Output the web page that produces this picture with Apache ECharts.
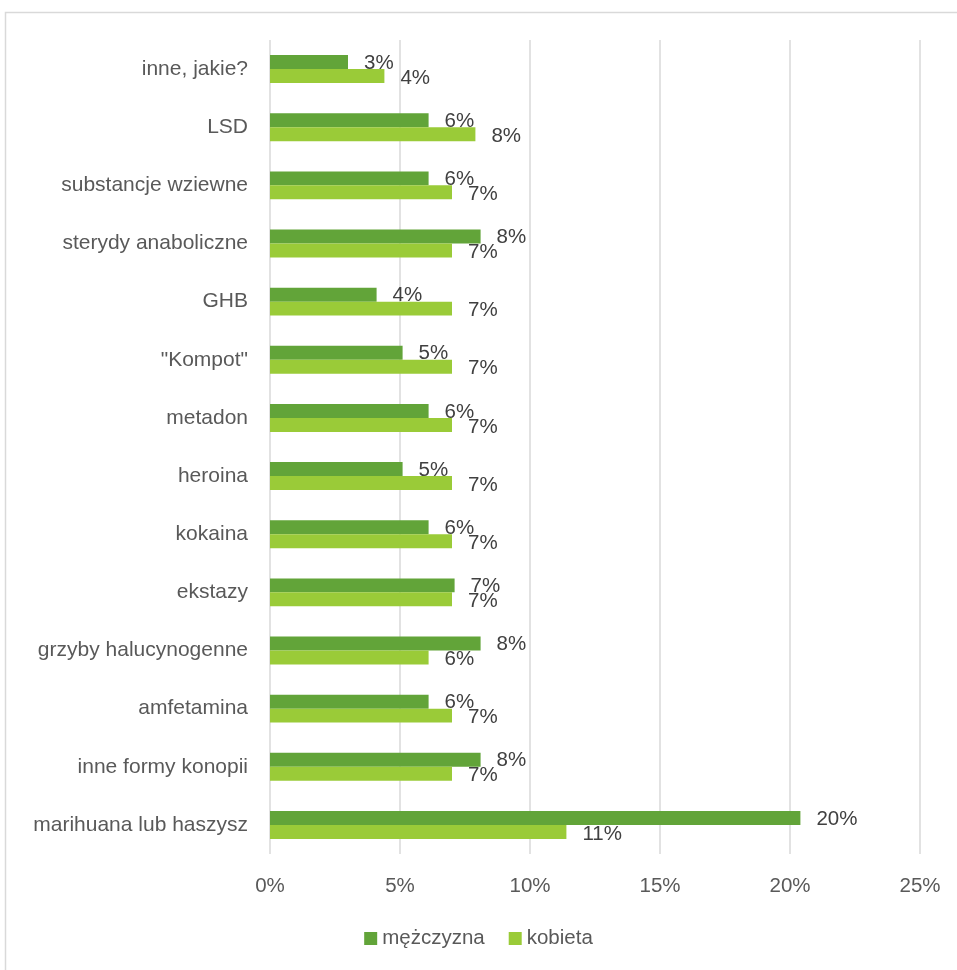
<!DOCTYPE html>
<html><head><meta charset="utf-8">
<script src="https://cdn.jsdelivr.net/npm/echarts@6/dist/echarts.min.js"></script>
<style>html,body{margin:0;padding:0;background:#fff}#c{width:957px;height:970px}</style>
</head><body><div id="c"></div>
<script>
const categories = ["marihuana lub haszysz","inne formy konopii","amfetamina","grzyby halucynogenne","ekstazy","kokaina","heroina","metadon","\"Kompot\"","GHB","sterydy anaboliczne","substancje wziewne","LSD","inne, jakie?"];
const men = [20.4, 8.1, 6.1, 8.1, 7.1, 6.1, 5.1, 6.1, 5.1, 4.1, 8.1, 6.1, 6.1, 3.0];
const women = [11.4, 7.0, 7.0, 6.1, 7.0, 7.0, 7.0, 7.0, 7.0, 7.0, 7.0, 7.0, 7.9, 4.4];
const seriesNames = ["mężczyzna","kobieta"];
const xTicks = [0,5,10,15,20,25];

const font = "Liberation Sans, Arial, sans-serif";
const chart = echarts.init(document.getElementById('c'));
const lbl = {show:true, position:'right', distance:16, color:'#404040', fontSize:20.5, fontFamily:font,
  formatter: p => Math.round(p.value) + '%'};
chart.setOption({
  animation:false,
  graphic:[{type:'rect', shape:{x:5.5,y:12.5,width:1000,height:1000}, style:{fill:'none', stroke:'#D9D9D9', lineWidth:1.5}, z:-1}],
  grid:{left:270, right:37, top:40, bottom:116, containLabel:false},
  legend:{bottom:16, left:'center', itemWidth:13, itemHeight:13, itemGap:24, icon:'rect',
    textStyle:{color:'#595959', fontSize:20.5, fontFamily:font}, data:seriesNames},
  xAxis:{type:'value', min:xTicks[0], max:xTicks[xTicks.length-1], interval:5,
    axisLabel:{formatter:v=>v+'%', color:'#595959', fontSize:20.5, fontFamily:font, margin:22},
    axisLine:{show:false}, axisTick:{show:false},
    splitLine:{lineStyle:{color:'#D9D9D9', width:1.5}}},
  yAxis:{type:'category', data:categories,
    axisLabel:{color:'#595959', fontSize:21, fontFamily:font, margin:22},
    axisLine:{show:false}, axisTick:{show:false}},
  series:[
    {name:seriesNames[0], type:'bar', data:men, barGap:'0%', barCategoryGap:'52%',
     itemStyle:{color:'#62A439'}, label:Object.assign({}, lbl, {offset:[0,1]})},
    {name:seriesNames[1], type:'bar', data:women, barGap:'0%', barCategoryGap:'52%',
     itemStyle:{color:'#9ACB38'}, label:Object.assign({}, lbl, {offset:[0,2]})}
  ]
});
</script></body></html>
